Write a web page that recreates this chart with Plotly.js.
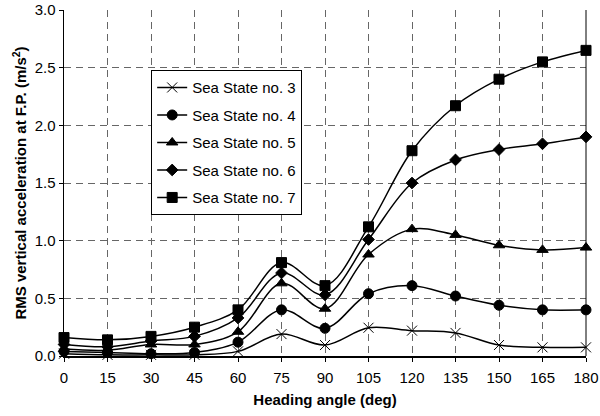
<!DOCTYPE html>
<html><head><meta charset="utf-8">
<script src="https://cdn.plot.ly/plotly-3.0.1.min.js"></script>
<style>body{margin:0;background:#fff}#c{width:600px;height:416px}</style>
</head><body><div id="c"></div>
<script>
const heading = [0,15,30,45,60,75,90,105,120,135,150,165,180];
const ss3 = [0.02,0.01,0.01,0.01,0.04,0.19,0.095,0.245,0.22,0.20,0.095,0.075,0.075];
const ss4 = [0.04,0.03,0.02,0.03,0.12,0.40,0.24,0.54,0.61,0.52,0.44,0.40,0.40];
const ss5 = [0.06,0.05,0.10,0.10,0.21,0.63,0.41,0.88,1.10,1.05,0.96,0.92,0.94];
const ss6 = [0.10,0.08,0.13,0.17,0.33,0.72,0.53,1.01,1.50,1.70,1.79,1.84,1.90];
const ss7 = [0.16,0.14,0.17,0.25,0.40,0.81,0.61,1.12,1.78,2.17,2.40,2.55,2.65];
const names = ["Sea State no. 3","Sea State no. 4","Sea State no. 5","Sea State no. 6","Sea State no. 7"];
const series = [ss3,ss4,ss5,ss6,ss7];
const symbols = ["x-thin-open","circle","triangle-up","diamond","square"];
const sizes = [10,10,10,9,10];
const traces = series.map((s,i)=>({
  x: heading, y: s, name: names[i], legendgroup:'g'+i, type:'scatter', mode:'lines+markers',
  line:{color:'#000', width:1.5, shape:'spline', smoothing:1},
  marker:{symbol:symbols[i], size:sizes[i], color:'#000', line:{color:'#000', width:1}},
  cliponaxis:false
}));
const layout = {
  width:600, height:416,
  margin:{l:64, r:14, t:10, b:60},
  paper_bgcolor:'#fff', plot_bgcolor:'#fff',
  font:{family:'Liberation Sans, Arial, sans-serif', size:15, color:'#000'},
  showlegend:true,
  legend:{x:0.167, y:0.826, xanchor:'left', yanchor:'top', bgcolor:'#fff',
    bordercolor:'#000', borderwidth:1, font:{size:15}, tracegroupgap:5, itemwidth:30},
  xaxis:{range:[0,180], tickvals:heading, ticks:'outside', ticklen:4, tickcolor:'#000',
    ticklabelstandoff:3,
    showline:true, linecolor:'#000', linewidth:1.5, zeroline:false,
    showgrid:true, gridcolor:'#666', griddash:'7px,5px', gridwidth:1,
    title:{text:'Heading angle (deg)', font:{size:15, weight:'bold'}, standoff:10}},
  yaxis:{range:[0,3], dtick:0.5, tickformat:'.1f', ticks:'outside', ticklen:4, tickcolor:'#000',
    showline:true, linecolor:'#000', linewidth:1.5, zeroline:false,
    showgrid:true, gridcolor:'#666', griddash:'7px,5px', gridwidth:1,
    title:{text:'RMS vertical acceleration at F.P. (m/s<sup>2</sup>)', font:{size:15, weight:'bold'}, standoff:4}},
  shapes:[{type:'line', xref:'paper', yref:'paper', x0:1, x1:1, y0:0, y1:1, line:{color:'#000', width:1}}]
};
Plotly.newPlot('c', traces, layout, {displayModeBar:false, staticPlot:true});
</script></body></html>
